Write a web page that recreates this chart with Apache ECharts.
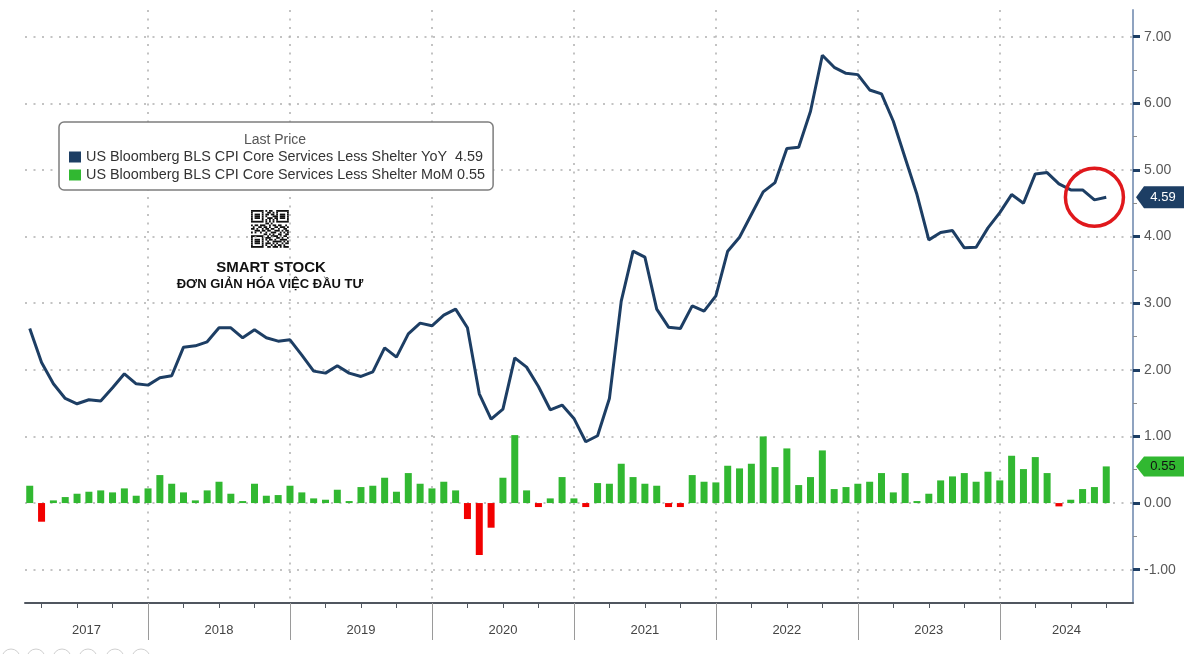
<!DOCTYPE html>
<html><head><meta charset="utf-8">
<script src="https://cdn.jsdelivr.net/npm/echarts@6/dist/echarts.min.js"></script>
<style>html,body{margin:0;padding:0;background:#fff}#c{width:1200px;height:654px}</style>
</head><body><div id="c"></div>
<script>
const months = [
 '2017-02','2017-03','2017-04','2017-05','2017-06','2017-07','2017-08','2017-09','2017-10','2017-11','2017-12',
 '2018-01','2018-02','2018-03','2018-04','2018-05','2018-06','2018-07','2018-08','2018-09','2018-10','2018-11','2018-12',
 '2019-01','2019-02','2019-03','2019-04','2019-05','2019-06','2019-07','2019-08','2019-09','2019-10','2019-11','2019-12',
 '2020-01','2020-02','2020-03','2020-04','2020-05','2020-06','2020-07','2020-08','2020-09','2020-10','2020-11','2020-12',
 '2021-01','2021-02','2021-03','2021-04','2021-05','2021-06','2021-07','2021-08','2021-09','2021-10','2021-11','2021-12',
 '2022-01','2022-02','2022-03','2022-04','2022-05','2022-06','2022-07','2022-08','2022-09','2022-10','2022-11','2022-12',
 '2023-01','2023-02','2023-03','2023-04','2023-05','2023-06','2023-07','2023-08','2023-09','2023-10','2023-11','2023-12',
 '2024-01','2024-02','2024-03','2024-04','2024-05','2024-06','2024-07','2024-08','2024-09'
];
const yoy = [
 2.62,2.11,1.79,1.57,1.49,1.55,1.53,1.73,1.94,1.79,1.77,
 1.88,1.91,2.34,2.36,2.42,2.63,2.63,2.48,2.60,2.48,2.43,2.45,
 2.22,1.98,1.95,2.06,1.95,1.90,1.97,2.33,2.19,2.54,2.70,2.66,
 2.82,2.91,2.63,1.64,1.26,1.41,2.18,2.04,1.75,1.40,1.47,1.27,
 0.92,1.01,1.57,3.03,3.78,3.69,2.91,2.64,2.62,2.96,2.88,3.11,
 3.78,3.99,4.33,4.67,4.81,5.32,5.34,5.88,6.72,6.54,6.45,6.43,
 6.20,6.14,5.73,5.18,4.63,3.95,4.06,4.09,3.83,3.84,4.13,4.36,
 4.63,4.50,4.94,4.96,4.79,4.70,4.70,4.55,4.59
];
const mom = [
 0.26,-0.28,0.04,0.09,0.14,0.17,0.19,0.16,0.22,0.11,0.22,
 0.42,0.29,0.16,0.04,0.19,0.32,0.14,0.03,0.29,0.11,0.12,0.26,
 0.16,0.07,0.05,0.20,0.03,0.24,0.26,0.38,0.17,0.45,0.29,0.22,
 0.32,0.19,-0.24,-0.78,-0.37,0.38,1.02,0.19,-0.06,0.07,0.39,0.07,
 -0.06,0.30,0.29,0.59,0.39,0.29,0.26,-0.06,-0.06,0.42,0.32,0.31,
 0.56,0.52,0.59,1.00,0.54,0.82,0.27,0.39,0.79,0.21,0.24,0.29,
 0.32,0.45,0.16,0.45,0.03,0.14,0.34,0.40,0.45,0.32,0.47,0.34,
 0.71,0.51,0.69,0.45,-0.05,0.05,0.21,0.24,0.55
];
const years = [2017,2018,2019,2020,2021,2022,2023,2024];
const yMajorTicks = [-1,0,1,2,3,4,5,6,7];
const yMinorTicks = [-0.5,0.5,1.5,2.5,3.5,4.5,5.5,6.5];
const yoyName = 'US Bloomberg BLS CPI Core Services Less Shelter YoY';
const momName = 'US Bloomberg BLS CPI Core Services Less Shelter MoM';

const NAVY = '#1d3e64', GREEN = '#31b831', RED = '#f20000';
const FONT = 'Liberation Sans';
const X_MIN = 1.6, X_MAX = 95.26, Y_MIN = -1.5, Y_MAX = 7.4;

function pos(m) { const p = m.split('-').map(Number); return (p[0] - 2017) * 12 + p[1]; }
const yearBounds = years.slice(1).map(y => (y - 2017) * 12);
const yearLabelPos = years.map(y => {
  const a = Math.max((y - 2017) * 12, X_MIN), b = Math.min((y - 2016) * 12, X_MAX);
  return (a + b) / 2;
});
const quarterTicks = [];
for (let q = 3; q <= X_MAX; q += 3) quarterTicks.push(q);

const lastYoy = yoy[yoy.length - 1], lastMom = mom[mom.length - 1];
const dotted = { type: [2, 6.5], width: 1.5, color: '#b0b0b0' };

// QR-like decoration pattern
const qrRows = [
 '111111101011001111111','100000100110101000001','101110101101101011101','101110101000111011101',
 '101110100111011011101','100000101010101000001','111111101010101111111','000000001101000000000',
 '101101110010110110010','010011011010011011101','110100101101100100110','001110110110011101011',
 '101001001001110010101','000000011010100110011','111111100101111010110','100000101110001101001',
 '101110101011010011110','101110100100111110101','101110101110101001011','100000101001010110100',
 '111111100110111010111'
];
const qrEls = [];
const MOD = 1.8;
qrRows.forEach((row, r) => {
  let c = 0;
  while (c < row.length) {
    if (row[c] === '1') {
      let e = c; while (e < row.length && row[e] === '1') e++;
      qrEls.push({ type: 'rect', shape: { x: c * MOD, y: r * MOD, width: (e - c) * MOD, height: MOD }, style: { fill: '#111' } });
      c = e;
    } else c++;
  }
});
const dots = [11, 36, 62, 88, 115, 141].map(cx => ({
  type: 'circle', shape: { cx: cx, cy: 658, r: 9 }, style: { fill: 'none', stroke: '#d0d0d0', lineWidth: 1 }, silent: true
}));

const badgePath = 'path://M0,10 L8,0 L48,0 L48,20 L8,20 Z';

const chart = echarts.init(document.getElementById('c'));
chart.setOption({
  animation: false,
  backgroundColor: '#fff',
  textStyle: { fontFamily: FONT },
  grid: { left: 25, right: 67, top: 10, bottom: 51, containLabel: false },
  legend: {
    left: 59, top: 122, orient: 'vertical',
    padding: [27, 8, 7, 10], itemGap: 2, itemWidth: 12, itemHeight: 11, icon: 'rect',
    backgroundColor: '#fff', borderColor: '#7d7d7d', borderWidth: 1.5, borderRadius: 5,
    data: [yoyName, momName],
    formatter: n => n === yoyName ? n + '  ' + lastYoy.toFixed(2) : n + ' ' + lastMom.toFixed(2),
    textStyle: { fontFamily: FONT, fontSize: 14.4, color: '#333', lineHeight: 16 }
  },
  graphic: [
    { type: 'text', x: 275, y: 140, style: { text: 'Last Price', fill: '#555', font: '14px "Liberation Sans"', align: 'center', verticalAlign: 'middle' }, z: 100 },
    { type: 'group', left: 251, top: 210, children: qrEls, silent: true },
    { type: 'text', x: 271, y: 268, style: { text: 'SMART STOCK', fill: '#111', font: 'bold 15px "Liberation Sans"', align: 'center', verticalAlign: 'middle' } },
    { type: 'text', x: 270, y: 284, style: { text: 'ĐƠN GIẢN HÓA VIỆC ĐẦU TƯ', fill: '#111', font: 'bold 13px "Liberation Sans"', align: 'center', verticalAlign: 'middle' } }
  ].concat(dots),
  xAxis: [
    {
      type: 'value', min: X_MIN, max: X_MAX, position: 'bottom',
      axisLine: { show: true, onZero: false, lineStyle: { color: '#50565f', width: 2 } },
      axisTick: { show: true, customValues: quarterTicks, length: 5, lineStyle: { color: '#50565f', width: 1 } },
      axisLabel: { show: false },
      splitLine: { show: false }
    },
    {
      type: 'value', min: X_MIN, max: X_MAX, position: 'bottom',
      axisLine: { show: false, onZero: false },
      axisTick: { show: true, customValues: yearBounds, length: 37, lineStyle: { color: '#9a9a9a', width: 1 } },
      axisLabel: {
        show: true, customValues: yearLabelPos, margin: 21,
        formatter: v => String(2017 + Math.floor(v / 12)),
        color: '#444', fontSize: 13, fontFamily: FONT
      },
      splitLine: { show: true, lineStyle: dotted }
    }
  ],
  yAxis: [
    {
      type: 'value', min: Y_MIN, max: Y_MAX, position: 'right',
      axisLine: { show: true, onZero: false, lineStyle: { color: '#8fa3c0', width: 2 } },
      axisTick: { show: true, customValues: yMajorTicks, length: 7, lineStyle: { color: NAVY, width: 3 } },
      axisLabel: { show: true, customValues: yMajorTicks, margin: 11, formatter: v => v.toFixed(2), color: '#585858', fontSize: 14, fontFamily: FONT },
      splitLine: { show: true, lineStyle: dotted }
    },
    {
      type: 'value', min: Y_MIN, max: Y_MAX, position: 'right',
      axisLine: { show: false },
      axisTick: { show: true, customValues: yMinorTicks, length: 4, lineStyle: { color: '#8a8a8a', width: 1 } },
      axisLabel: { show: false },
      splitLine: { show: false }
    }
  ],
  series: [
    {
      name: momName, type: 'bar', xAxisIndex: 0, yAxisIndex: 0, barWidth: 7,
      itemStyle: { color: GREEN },
      data: months.map((m, i) => ({ value: [pos(m), mom[i]], itemStyle: { color: mom[i] < 0 ? RED : GREEN } })),
      markPoint: {
        silent: true,
        data: [{
          coord: [X_MAX, lastMom], symbol: badgePath, symbolSize: [48, 20], symbolOffset: [27, 0], symbolKeepAspect: false,
          itemStyle: { color: GREEN },
          label: { show: true, position: 'inside', offset: [3, 0], formatter: lastMom.toFixed(2), color: '#111', fontSize: 13, fontFamily: FONT }
        }]
      },
      z: 2
    },
    {
      name: yoyName, type: 'line', xAxisIndex: 0, yAxisIndex: 0, symbol: 'none',
      lineStyle: { color: NAVY, width: 3 }, itemStyle: { color: NAVY },
      data: months.map((m, i) => [pos(m), yoy[i]]),
      markPoint: {
        silent: true,
        data: [
          {
            coord: [X_MAX, lastYoy], symbol: badgePath, symbolSize: [48, 22], symbolOffset: [27, 0], symbolKeepAspect: false,
            itemStyle: { color: NAVY },
            label: { show: true, position: 'inside', offset: [3, 0], formatter: lastYoy.toFixed(2), color: '#fff', fontSize: 13, fontFamily: FONT }
          },
          {
            coord: [pos(months[months.length - 2]), lastYoy], symbol: 'circle', symbolSize: 58,
            itemStyle: { color: 'rgba(0,0,0,0)', borderColor: '#e0181c', borderWidth: 3.5 },
            label: { show: false }
          }
        ]
      },
      z: 3
    }
  ]
});
</script></body></html>
